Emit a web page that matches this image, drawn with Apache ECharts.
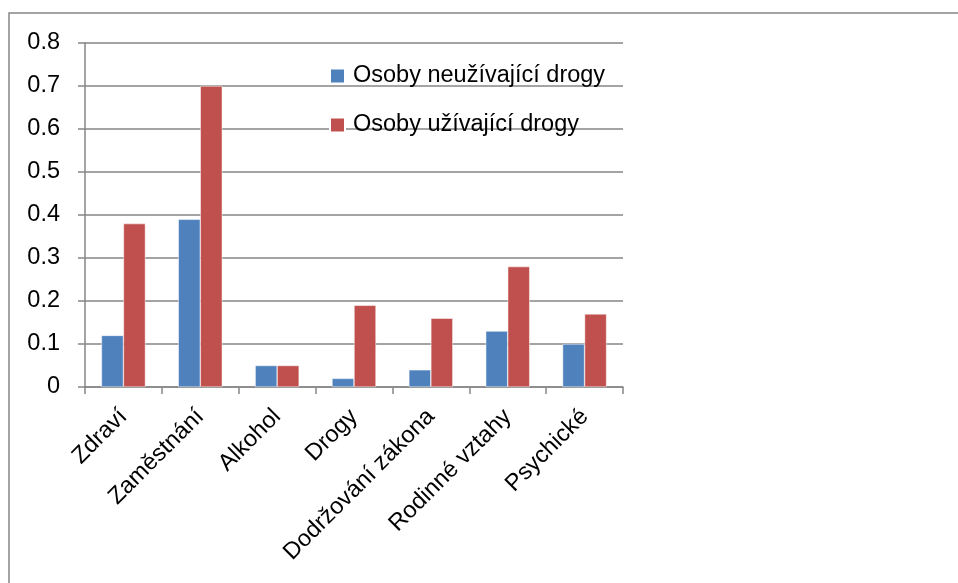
<!DOCTYPE html>
<html>
<head>
<meta charset="utf-8">
<script src="https://cdn.jsdelivr.net/npm/echarts@6/dist/echarts.min.js"></script>
<style>
  html, body { margin: 0; padding: 0; background: #fff; }
  #chart { width: 958px; height: 583px; }
</style>
</head>
<body>
<div id="chart"></div>
<script>
// Problem areas (categories) and shares for each group
const categories = ['Zdraví', 'Zaměstnání', 'Alkohol', 'Drogy', 'Dodržování zákona', 'Rodinné vztahy', 'Psychické'];
const nonUsers = [0.12, 0.39, 0.05, 0.02, 0.04, 0.13, 0.10];
const users = [0.38, 0.70, 0.05, 0.19, 0.16, 0.28, 0.17];
const seriesNames = ['Osoby neužívající drogy', 'Osoby užívající drogy'];
const yTicks = { min: 0, max: 0.8, interval: 0.1 };

const FONT = 'Liberation Sans';
const FS = 23.5;
const GREY = '#868686';

const chart = echarts.init(document.getElementById('chart'), null, { renderer: 'canvas' });

chart.setOption({
  animation: false,
  backgroundColor: '#fff',
  textStyle: { fontFamily: FONT, color: '#000' },
  graphic: [{
    type: 'rect',
    shape: { x: 9, y: 13, width: 1200, height: 1200 },
    style: { fill: 'none', stroke: GREY, lineWidth: 1.5 },
    silent: true,
    z: -1
  }],
  grid: { left: 85, right: 335, top: 43, bottom: 196, containLabel: false },
  legend: {
    orient: 'vertical',
    left: 329,
    top: 64,
    padding: 0,
    itemWidth: 15,
    itemHeight: 15,
    itemGap: 25,
    icon: 'rect',
    textStyle: { fontFamily: FONT, fontSize: FS, lineHeight: 24, color: '#000', padding: [0, 0, 0, 3] },
    data: seriesNames
  },
  xAxis: {
    type: 'category',
    data: categories,
    axisLine: { lineStyle: { color: GREY, width: 1.5 } },
    axisTick: { show: true, length: 7, alignWithLabel: false, lineStyle: { color: GREY, width: 1.5 } },
    axisLabel: {
      rotate: 45,
      margin: 26,
      interval: 0,
      fontFamily: FONT,
      fontSize: FS,
      color: '#000'
    }
  },
  yAxis: {
    type: 'value',
    min: yTicks.min,
    max: yTicks.max,
    interval: yTicks.interval,
    axisLine: { show: true, lineStyle: { color: GREY, width: 1.5 } },
    axisTick: { show: true, length: 7, lineStyle: { color: GREY, width: 1.5 } },
    splitLine: { show: true, lineStyle: { color: GREY, width: 1.5 } },
    axisLabel: {
      margin: 25,
      fontFamily: FONT,
      fontSize: FS,
      color: '#000',
      formatter: v => (v === 0 ? '0' : v.toFixed(1))
    }
  },
  series: [
    {
      name: seriesNames[0],
      type: 'bar',
      data: nonUsers,
      barWidth: 22,
      barGap: '0%',
      itemStyle: { color: '#4F81BD', borderColor: '#fff', borderWidth: 0.5 }
    },
    {
      name: seriesNames[1],
      type: 'bar',
      data: users,
      barWidth: 22,
      barGap: '0%',
      itemStyle: { color: '#C0504D', borderColor: '#fff', borderWidth: 0.5 }
    }
  ]
});
</script>
</body>
</html>
